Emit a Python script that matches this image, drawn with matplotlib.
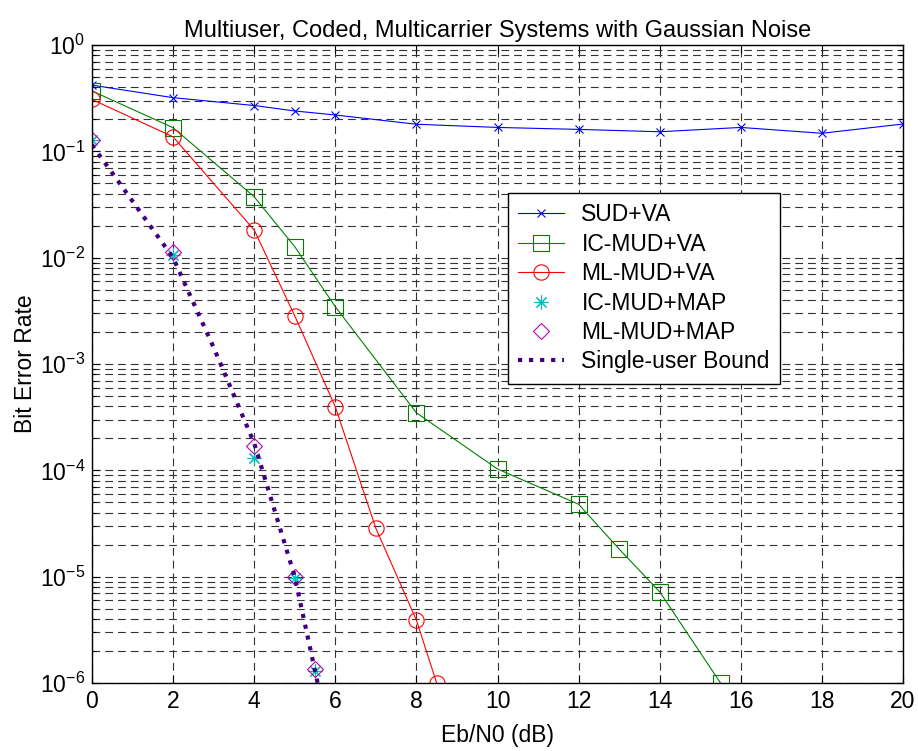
import numpy as np
import matplotlib
matplotlib.use('Agg')
import matplotlib.pyplot as plt
from matplotlib.ticker import LogLocator, NullFormatter, FixedLocator

plt.rcParams['font.family'] = ['Liberation Sans', 'DejaVu Sans']
plt.rcParams['mathtext.default'] = 'regular'

# Data
snr_sud = [0, 2, 4, 5, 6, 8, 10, 12, 14, 16, 18, 20]
ber_sud = [0.42, 0.32, 0.27, 0.24, 0.22, 0.18, 0.168, 0.161, 0.153, 0.168, 0.148, 0.181]

snr_ic_va = [0, 2, 4, 5, 6, 8, 10, 12, 13, 14, 15.5]
ber_ic_va = [0.37, 0.167, 0.0374, 0.0127, 3.46e-3, 3.48e-4, 1.03e-4, 4.8e-5, 1.82e-5, 7.2e-6, 1.0e-6]

snr_ml_va = [0, 2, 4, 5, 6, 7, 8, 8.5]
ber_ml_va = [0.308, 0.137, 0.0182, 2.84e-3, 3.96e-4, 2.85e-5, 3.9e-6, 1.0e-6]

snr_map = [0, 2, 4, 5, 5.5]
ber_ic_map = [0.128, 0.0105, 1.30e-4, 9.8e-6, 1.3e-6]
ber_ml_map = [0.128, 0.0114, 1.69e-4, 1.0e-5, 1.35e-6]

snr_bound = [0, 1, 2, 3, 4, 5, 5.5, 6]
ber_bound = [0.115, 0.034, 0.0100, 1.43e-3, 1.8e-4, 1.0e-5, 1.3e-6, 1.7e-7]

y_decades = [1e-6, 1e-5, 1e-4, 1e-3, 1e-2, 1e-1, 1e0]

fig = plt.figure(figsize=(9.18, 7.51), dpi=100)
ax = fig.add_axes([0.1002, 0.0905, 0.8835, 0.8495])

ax.semilogy(snr_sud, ber_sud, color='#0000ff', lw=0.8, marker='x', ms=6, mew=0.8, label='SUD+VA')
ax.semilogy(snr_ic_va, ber_ic_va, color='#008000', lw=0.8, marker='s', ms=11, mfc='none', mew=0.8, label='IC-MUD+VA')
ax.semilogy(snr_ml_va, ber_ml_va, color='#ff0000', lw=0.8, marker='o', ms=11, mfc='none', mew=0.8, label='ML-MUD+VA')
ax.semilogy(snr_map, ber_ic_map, color='#00bfbf', lw=0, marker=(8, 2, 0), ms=10, mew=0.8, label='IC-MUD+MAP')
ax.semilogy(snr_map, ber_ml_map, color='#bf00bf', lw=0, marker='D', ms=8, mfc='none', mew=0.8, label='ML-MUD+MAP')
ax.semilogy(snr_bound, ber_bound, color='#400080', lw=3, ls=':', label='Single-user Bound')

ax.set_xlim(0, 20)
ax.set_ylim(1e-6, 1)
ax.set_xticks(np.arange(0, 21, 2))
ax.yaxis.set_major_locator(FixedLocator(y_decades))
ax.yaxis.set_minor_locator(LogLocator(base=10, subs=np.arange(2, 10), numticks=20))
ax.yaxis.set_minor_formatter(NullFormatter())

grid_ls = (0, (7, 4.5))
ax.grid(True, which='major', axis='both', color='0.2', lw=0.8, ls=grid_ls)
ax.grid(True, which='minor', axis='y', color='0.2', lw=0.8, ls=grid_ls)
ax.set_axisbelow(True)

ax.tick_params(which='major', direction='in', length=6, top=True, right=True, labelsize=16.5, width=0.8, pad=5)
ax.tick_params(which='minor', direction='in', length=3, top=True, right=True, width=0.8)
for s in ax.spines.values():
    s.set_linewidth(1.0)

ax.set_title('Multiuser, Coded, Multicarrier Systems with Gaussian Noise', fontsize=17, pad=6)
ax.set_xlabel('Eb/N0 (dB)', fontsize=16.5, labelpad=8)
ax.set_ylabel('Bit Error Rate', fontsize=16.5, labelpad=2)

leg = ax.legend(loc='upper left', bbox_to_anchor=(0.513, 0.768), fontsize=16.5, numpoints=1,
                fancybox=False, framealpha=1, edgecolor='black', handlelength=2.0,
                handletextpad=0.75, labelspacing=0.28, borderpad=0.45, borderaxespad=0)
leg.get_frame().set_linewidth(1.0)

fig.savefig('out.png', dpi=100)
